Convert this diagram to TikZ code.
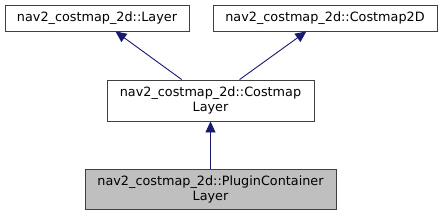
\documentclass[tikz,border=0pt]{standalone}
\usepackage{fontspec}
\setmainfont{DejaVu Sans}
\usetikzlibrary{arrows.meta}
\definecolor{edgeblue}{HTML}{191970}
\definecolor{boxgray}{HTML}{BFBFBF}
\definecolor{boxline}{HTML}{404040}

\begin{document}
\begin{tikzpicture}[x=1pt, y=-1pt,
  every node/.style={draw=boxline, line width=0.9pt, rectangle, inner sep=0pt, align=center, font=\fontsize{12.8}{15}\selectfont},
  inherit/.style={draw=edgeblue, line width=0.9pt, -{Triangle[length=11pt,width=10pt]}}]

\useasboundingbox (0,0) rectangle (443,216);

\node[minimum width=184pt, minimum height=26pt] (layer) at (97,18) {nav2\_costmap\_2d::Layer};
\node[minimum width=224pt, minimum height=26pt] (costmap2d) at (325,18) {nav2\_costmap\_2d::Costmap2D};
\node[minimum width=207pt, minimum height=41pt] (costmaplayer) at (210.5,100.5) {nav2\_costmap\_2d::Costmap\\Layer};
\node[fill=boxgray, minimum width=251pt, minimum height=40pt] (plugin) at (210.5,189) {nav2\_costmap\_2d::PluginContainer\\Layer};

\foreach \parent in {layer, costmap2d} {
    \draw[inherit] (costmaplayer) -- (\parent);
}
\draw[inherit] (plugin) -- (costmaplayer);

\end{tikzpicture}
\end{document}
